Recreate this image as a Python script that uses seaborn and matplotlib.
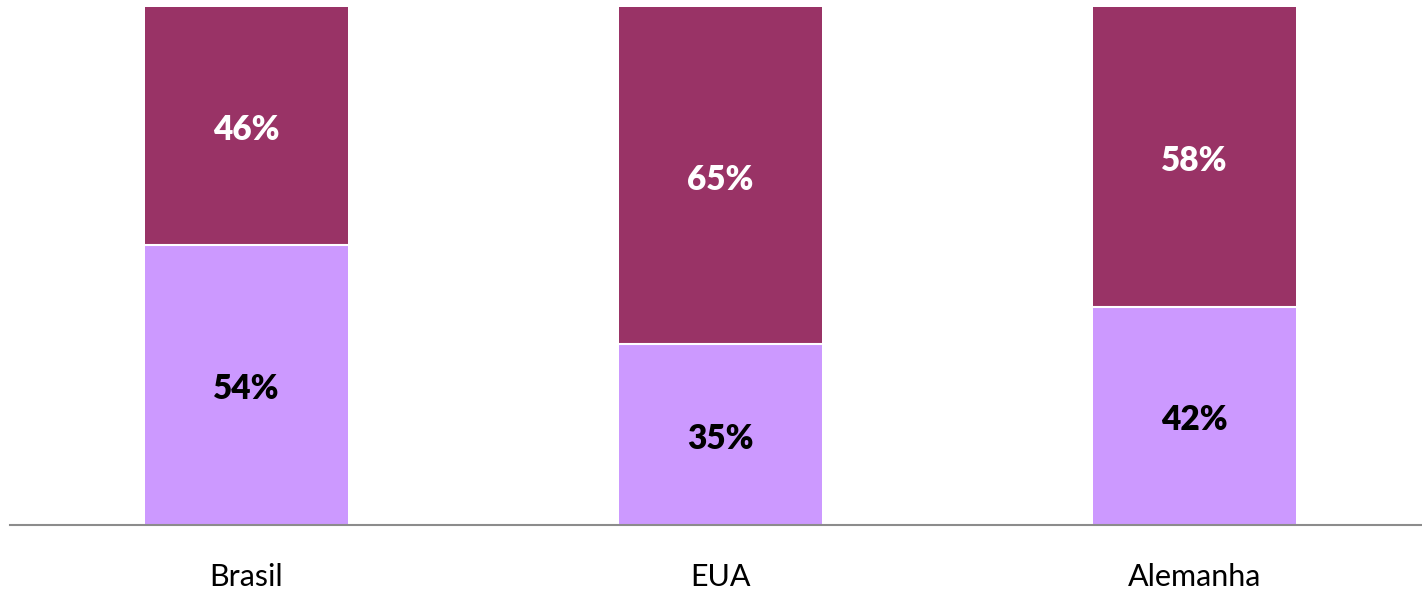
import numpy as np
import pandas as pd
import seaborn as sns
import matplotlib.pyplot as plt

# dados (percentuais)
paises = ['Brasil', 'EUA', 'Alemanha']
parte_baixo = [54, 35, 42]   # lilás
parte_cima = [46, 65, 58]    # vinho

cor_baixo = '#CC99FF'
cor_cima = '#993366'

sns.set_style('white')
plt.rcParams['font.family'] = ['Lato', 'DejaVu Sans']

df = pd.DataFrame({'pais': paises, 'baixo': parte_baixo, 'cima': parte_cima})
df['total'] = df['baixo'] + df['cima']

fig = plt.figure(figsize=(14.22, 5.90), dpi=100)
ax = fig.add_axes([10 / 1422, 65 / 590, 1 - 10 / 1422, 518 / 590])

largura = 0.428
# barra total (vinho) por trás, parte de baixo (lilás) na frente
sns.barplot(data=df, x='pais', y='total', color=cor_cima, width=largura,
            saturation=1, ax=ax, edgecolor='none')
sns.barplot(data=df, x='pais', y='baixo', color=cor_baixo, width=largura,
            saturation=1, ax=ax, edgecolor='none')

# linha branca entre os segmentos
for i, b in enumerate(parte_baixo):
    ax.hlines(b, i - largura / 2, i + largura / 2, color='white', lw=1.5, zorder=5)

# rótulos
for i, (b, c) in enumerate(zip(parte_baixo, parte_cima)):
    ax.annotate(f'{b}%', (i, b / 2), xytext=(0, -3), textcoords='offset points',
                ha='center', va='center', fontsize=24, fontweight='heavy', color='black')
    ax.annotate(f'{c}%', (i, b + c / 2), xytext=(0, -3), textcoords='offset points',
                ha='center', va='center', fontsize=24, fontweight='heavy', color='white')

ax.set_xlim(-0.499, 2.48)
ax.set_ylim(0, 100)
ax.set_xlabel('')
ax.set_ylabel('')
ax.set_yticks([])
ax.tick_params(axis='x', length=0, pad=27, labelsize=22, colors='black')
for s in ['top', 'right', 'left']:
    ax.spines[s].set_visible(False)
ax.spines['bottom'].set_color('#8c8c8c')
ax.spines['bottom'].set_linewidth(1.5)

fig.savefig('out.png', dpi=100)
